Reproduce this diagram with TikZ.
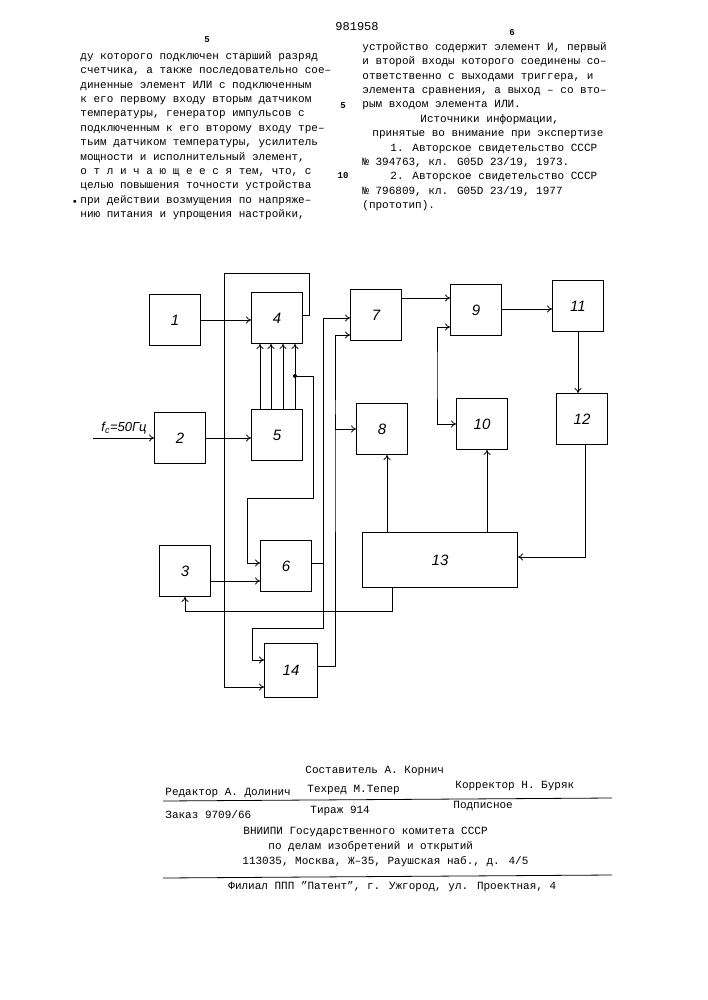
\documentclass[tikz,border=0pt]{standalone}
\usepackage{fontspec}
\setmainfont{Liberation Mono}
\setsansfont{Liberation Sans}
\usetikzlibrary{arrows,arrows.meta,calc}
\tikzstyle{line} = [draw, -{To[length=5pt,width=7pt]}]
\tikzstyle{blk} = [draw, thick, rectangle, minimum width=51pt, minimum height=51pt, font=\sffamily\itshape\fontsize{15}{15}\selectfont]
\tikzstyle{txt} = [inner sep=0pt, font=\fontsize{11}{14.4}\selectfont]
\begin{document}
\begin{tikzpicture}[x=1pt, y=-1pt, thick]
        \useasboundingbox (0,0) rectangle (707,1000);
        % page header and text
        \node[txt, font=\bfseries\fontsize{9}{9}\selectfont] (p5) at (207,40) {5};
        \node[txt, font=\fontsize{12}{12}\selectfont] (num) at (357,27) {981958};
        \node[txt, font=\bfseries\fontsize{9}{9}\selectfont] (p6) at (512,33) {6};
        \node[txt, anchor=north west, align=left] (left) at (80,51) {ду которого подключен старший разряд\\счетчика, а также последовательно сое–\\диненные элемент ИЛИ с подключенным\\к его первому входу вторым датчиком\\температуры, генератор импульсов с\\подключенным к его второму входу тре–\\тьим датчиком температуры, усилитель\\мощности и исполнительный элемент,\\о т л и ч а ю щ е е с я тем, что, с\\целью повышения точности устройства\\при действии возмущения по напряже–\\нию питания и упрощения настройки,};
        \node[txt] (dot) at (75,203) {•};
        \node[txt, anchor=north west, align=left] (right) at (362,42) {устройство содержит элемент И, первый\\и второй входы которого соединены со–\\ответственно с выходами триггера, и\\элемента сравнения, а выход – со вто–\\рым входом элемента ИЛИ.\\\hspace*{58pt}Источники информации,\\\hspace*{10pt}принятые во внимание при экспертизе\\\hspace*{28pt}1. Авторское свидетельство СССР\\№ 394763, кл. G05D 23/19, 1973.\\\hspace*{28pt}2. Авторское свидетельство СССР\\№ 796809, кл. G05D 23/19, 1977\\(прототип).};
        \node[txt, font=\bfseries\fontsize{9}{9}\selectfont] (l5) at (343,106) {5};
        \node[txt, font=\bfseries\fontsize{9}{9}\selectfont] (l10) at (343,176) {10};

        % blocks
        \node[blk] (b1) at (175,320) {1};
        \node[blk] (b2) at (180,438) {2};
        \node[blk] (b3) at (185,571) {3};
        \node[blk] (b4) at (277,318) {4};
        \node[blk] (b5) at (277,435) {5};
        \node[blk] (b6) at (286,566) {6};
        \node[blk, minimum width=53pt, minimum height=54pt] (b14) at (291,670) {14};
        \node[blk] (b7) at (376,315) {7};
        \node[blk] (b8) at (382,429) {8};
        \node[blk] (b9) at (476,310) {9};
        \node[blk] (b10) at (482,424) {10};
        \node[blk] (b11) at (578,306) {11};
        \node[blk] (b12) at (582,419) {12};
        \node[blk, minimum width=155pt, minimum height=55pt] (b13) at (440,560) {13};

        % input
        \coordinate (fin) at (93,438);
        \node[font=\sffamily\itshape\fontsize{13}{13}\selectfont] (fc) at (124,428) {f\textsubscript{c}=50Гц};
        \path[line] (fin) -- (b2.west);

        % connections
        \path[line] (b1.east) -- (b1.east -| b4.west);
        \path[line] ([yshift=3pt]b4.east) -- (309,315) -- (309,273) -- (224,273) |- ([yshift=-17pt]b14.west);
        \path[line] (b2.east) -- (b2.east -| b5.west);
        \foreach \dx in {-17,-6,6,18}
            \path[line] ([xshift=\dx pt]b5.north) -- ([xshift=\dx pt]b4.south);
        \coordinate (tap) at (295,376);
        \fill (tap) circle (2);
        \path[line] (tap) -- (313,376) -- (313,498) -- (247,498) |- ([yshift=3pt]b6.west);
        \path[line] ([yshift=-10pt]b3.east) -- ([yshift=-10pt]b3.east -| b6.west);
        \path[line] ([yshift=3pt]b6.east) -| (323,628) -- (252,628) |- ([yshift=10pt]b14.west);
        \path[line] (323,563) |- ([yshift=-3pt]b7.west);
        \path[line] ([yshift=4pt]b14.east) -| (335,400) |- (b8.west);
        \path[line] (335,400) |- ([yshift=-20pt]b7.west);
        \path[line] ([yshift=17pt]b7.east) -- ([yshift=17pt]b7.east -| b9.west);
        \path[line] ([yshift=1pt]b9.east) -- ([yshift=1pt]b9.east -| b11.west);
        \path[line] (b11.south) -- (b11.south |- b12.north);
        \path[line, {To[length=5pt,width=7pt]}-{To[length=5pt,width=7pt]}] ([yshift=-17pt]b9.west) -| (437,375) |- (b10.west);
        \path[line] ([xshift=5pt]b8.south |- b13.north) -- ([xshift=5pt]b8.south);
        \path[line] ([xshift=5pt]b10.south |- b13.north) -- ([xshift=5pt]b10.south);
        \path[line] ([xshift=3pt]b12.south) |- ([yshift=3pt]b13.east);
        \path[line] ([xshift=-48pt]b13.south) -- ++(0,23) -| (b3.south);

        % imprint
        \node[txt, anchor=west] (sost) at (305,771) {Составитель А. Корнич};
        \node[txt, anchor=west] (red) at (165,793) {Редактор А. Долинич};
        \node[txt, anchor=west] (tech) at (307,790) {Техред М.Тепер};
        \node[txt, anchor=west] (korr) at (455,786) {Корректор Н. Буряк};
        \draw (163,801) -- (612,798);
        \node[txt, anchor=west] (zak) at (165,815) {Заказ 9709/66};
        \node[txt, anchor=west] (tir) at (310,811) {Тираж 914};
        \node[txt, anchor=west] (pod) at (453,806) {Подписное};
        \node[txt, anchor=west] (vn) at (243,832) {ВНИИПИ Государственного комитета СССР};
        \node[txt, anchor=west] (dela) at (268,847) {по делам изобретений и открытий};
        \node[txt, anchor=west] (adr) at (242,862) {113035, Москва, Ж–35, Раушская наб., д. 4/5};
        \draw (163,878) -- (612,875);
        \node[txt, anchor=west] (fil) at (228,887) {Филиал ППП "Патент", г. Ужгород, ул. Проектная, 4};
\end{tikzpicture}
\end{document}
